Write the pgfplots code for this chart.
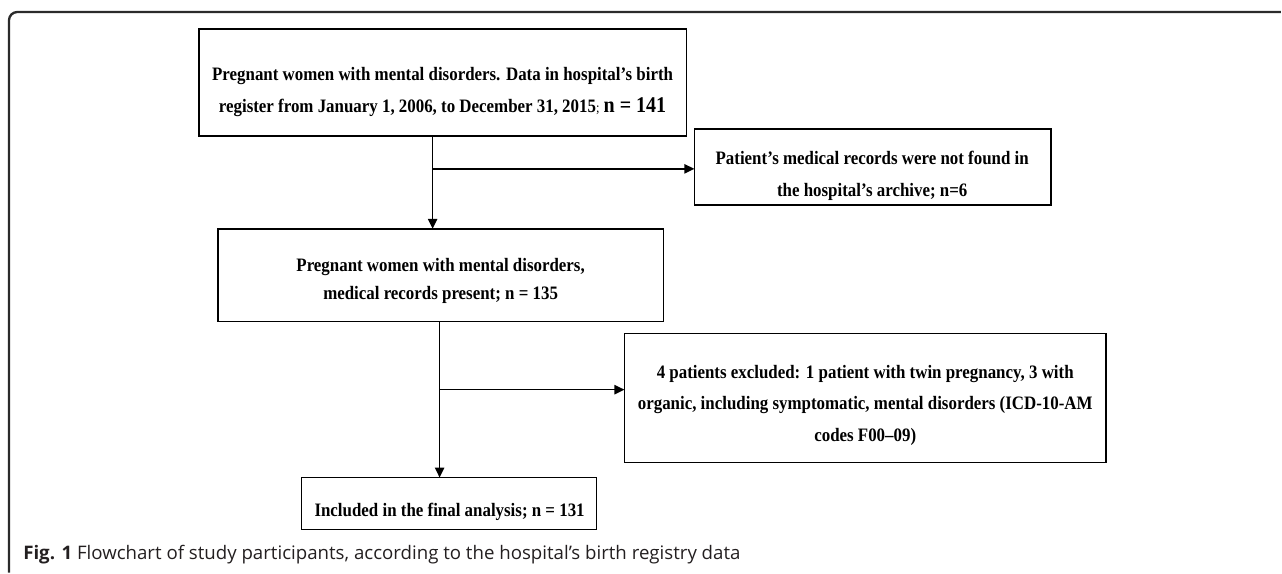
\documentclass[border=0pt]{standalone}
\usepackage{pgfplots}
\pgfplotsset{compat=1.18}
\usetikzlibrary{arrows.meta}
\usepackage{fontspec}
\setmainfont{Liberation Serif}
\newfontfamily\boxfont[FakeStretch=0.89]{Liberation Serif}
\newfontfamily\capfont{Open Sans}
\definecolor{capgray}{HTML}{231F20}
\definecolor{framegray}{HTML}{2B2B2B}
\tikzset{
  bx/.style={font=\boxfont\bfseries\fontsize{11.4}{13}\selectfont, text height=7.5pt, text depth=2pt, inner sep=0pt, anchor=center},
  ln/.style={black, mark=none, solid, line width=0.85pt, line cap=rect, line join=miter},
  arr/.style={ln, -{Triangle[length=6pt,width=5.6pt]}, line cap=butt}
}
\begin{document}
\begin{tikzpicture}
\begin{axis}[
  x=0.6pt, y=0.6pt, y dir=reverse,
  xmin=0, xmax=1282, ymin=0, ymax=573,
  hide axis, clip=false
]
\path (axis cs:0,0) rectangle (axis cs:1282,573);
% outer frame
\addplot[framegray, mark=none, line width=1.4pt, rounded corners=5pt, line cap=butt] coordinates {(9,573) (9,12) (1282,12)};
% boxes
\addplot[ln] coordinates {(199,29) (687,29) (687,136) (199,136) (199,29)};
\addplot[ln] coordinates {(695,129) (1052,129) (1052,205) (695,205) (695,129)};
\addplot[ln] coordinates {(218,229) (664,229) (664,322) (218,322) (218,229)};
\addplot[ln] coordinates {(625,334) (1107,334) (1107,463) (625,463) (625,334)};
\addplot[ln] coordinates {(302,478) (597,478) (597,530) (302,530) (302,478)};
% arrows
\addplot[arr] coordinates {(433,136) (433,229)};
\addplot[arr] coordinates {(433,169) (695,169)};
\addplot[arr] coordinates {(440,322) (440,478)};
\addplot[arr] coordinates {(440,390) (625,390)};
% texts
\node[bx] at (axis cs:443,76) {Pregnant women with mental disorders. Data in hospital’s birth};
\node[bx] at (axis cs:443,108) {register from January 1, 2006, to December 31, 2015\textmd{\fontsize{8.5}{10}\selectfont;} {\fontsize{13.5}{14}\selectfont n = 141}};
\node[bx] at (axis cs:873,160) {Patient’s medical records were not found in};
\node[bx] at (axis cs:873,192) {the hospital’s archive; n=6};
\node[bx] at (axis cs:441,267) {Pregnant women with mental disorders,};
\node[bx] at (axis cs:441,295) {medical records present; n = 135};
\node[bx] at (axis cs:866,374) {4 patients excluded: 1 patient with twin pregnancy, 3 with};
\node[bx] at (axis cs:866,405) {organic, including symptomatic, mental disorders (ICD-10-AM};
\node[bx] at (axis cs:866,437) {codes F00–09)};
\node[bx] at (axis cs:450,512) {Included in the final analysis; n = 131};
\node[font=\capfont\fontsize{11.2}{12}\selectfont, text=capgray, anchor=west, inner sep=0pt, text height=7.5pt, text depth=2pt] at (axis cs:23,555) {\textbf{Fig. 1} Flowchart of study participants, according to the hospital’s birth registry data};
\end{axis}
\end{tikzpicture}
\end{document}
